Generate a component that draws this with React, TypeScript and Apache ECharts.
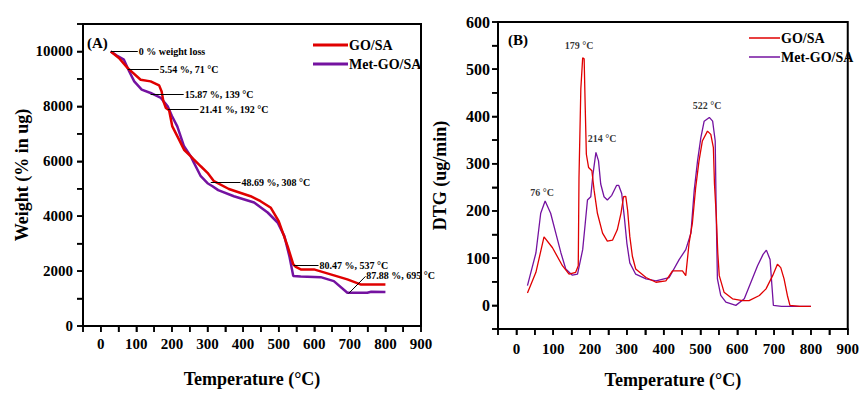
import React, { useEffect, useRef } from 'react';
import * as echarts from 'echarts';

const FONT = "'Liberation Serif', 'Times New Roman', serif";
const RED = '#e00000';
const PURPLE = '#7412a0';

// Panel A: TGA (weight vs temperature)
const goTgaT = [28, 51, 75, 112, 140, 164, 171, 176, 183, 192, 201, 220, 234, 253, 262, 281, 300, 318, 360, 421, 449, 478, 500, 525, 541, 548, 562, 599, 646, 693, 730, 760, 800];
const goTgaW = [10000, 9760, 9400, 8970, 8910, 8764, 8545, 8182, 7940, 7860, 7270, 6790, 6420, 6180, 6062, 5818, 5578, 5273, 4990, 4727, 4545, 4305, 3818, 2909, 2243, 2150, 2062, 2062, 1880, 1698, 1516, 1516, 1510];
const metTgaT = [28, 45, 65, 80, 94, 115, 140, 169, 188, 200, 215, 234, 253, 262, 281, 300, 314, 330, 374, 431, 469, 497, 516, 530, 541, 562, 618, 655, 693, 749, 760, 800];
const metTgaW = [10000, 9850, 9700, 9270, 8910, 8610, 8487, 8306, 8000, 7650, 7270, 6545, 6180, 5940, 5455, 5200, 5090, 4950, 4727, 4496, 4134, 3770, 3273, 2545, 1818, 1800, 1780, 1636, 1213, 1213, 1250, 1240];

// Panel A annotations (leader lines in data units)
const tgaNoteText = ['0 % weight loss', '5.54 %, 71 °C', '15.87 %, 139 °C', '21.41 %, 192 °C', '48.69 %, 308 °C', '80.47 %, 537 °C', '87.88 %, 695 °C'];
const tgaNoteFromT = [28, 76, 140, 188, 309, 542, 697];
const tgaNoteFromW = [10000, 9335, 8425, 7880, 5225, 2207, 1189];
const tgaNoteToT = [104, 163, 233, 275, 393, 612, 744];
const tgaNoteToW = [10000, 9335, 8425, 7880, 5225, 2207, 1807];

// Panel B: DTG
const goDtgT = [30, 53, 75, 98, 125, 143, 161, 168, 170, 175, 180, 184, 187, 190, 196, 205, 211, 220, 234, 247, 261, 274, 284, 291, 297, 302, 308, 315, 324, 352, 379, 406, 424, 451, 460, 469, 478, 487, 496, 505, 519, 528, 535, 538, 543, 547, 551, 564, 587, 614, 632, 660, 678, 696, 709, 718, 727, 736, 743, 770, 800];
const goDtgV = [26, 70, 145, 122, 84, 66, 70, 84, 271, 459, 524, 522, 417, 320, 292, 285, 244, 195, 153, 136, 138, 160, 195, 230, 231, 202, 146, 104, 77, 59, 49, 52, 73, 73, 63, 132, 174, 250, 306, 348, 369, 362, 334, 257, 188, 111, 63, 28, 14, 10, 10, 21, 35, 63, 87, 80, 56, 21, 0, -2, -2];
const metDtgT = [30, 53, 66, 78, 93, 107, 121, 134, 152, 166, 180, 187, 193, 202, 208, 216, 223, 229, 238, 247, 259, 272, 278, 286, 293, 300, 308, 324, 352, 379, 415, 442, 460, 474, 483, 492, 501, 510, 524, 533, 540, 543, 546, 555, 569, 596, 619, 637, 655, 670, 679, 689, 694, 698, 720, 800];
const metDtgV = [42, 111, 195, 221, 195, 153, 111, 77, 64, 66, 118, 174, 223, 230, 278, 324, 306, 257, 230, 223, 233, 254, 254, 237, 188, 132, 90, 66, 56, 52, 59, 97, 118, 153, 244, 306, 355, 390, 398, 390, 348, 181, 56, 21, 7, 0, 14, 49, 84, 108, 117, 97, 42, 0, -2, -2];

// Panel B peak labels
const dtgPeakText = ['76 °C', '179 °C', '214 °C', '522 °C'];
const dtgPeakT = [70, 170, 233, 518];
const dtgPeakV = [238, 550, 353, 424];

const seriesNames = ['GO/SA', 'Met-GO/SA'];

// Axis ranges
const xMin = -50, xMax = 900, xStep = 50;
const yRanges = [
  { min: 0, max: 11000, step: 1000, labelEvery: 2000 },
  { min: -50, max: 600, step: 50, labelEvery: 100 },
];

const zip = (a: number[], b: number[]) => a.map((v, i) => [v, b[i]]);
const steps = (a: number, b: number, s: number) => {
  const out: number[] = [];
  for (let v = a; v <= b + 1e-9; v += s) out.push(v);
  return out;
};

const axisText = { fontFamily: FONT, fontWeight: 'bold' as const, color: '#000' };
const mkLine = () => ({ show: true, onZero: false, lineStyle: { color: '#000', width: 2 } });
const mkTick = () => ({ show: true, length: 6, lineStyle: { color: '#000', width: 1.5 } });

function makeXAxis(gridIndex: number, nameGap: number, margin: number) {
  return {
    gridIndex,
    type: 'value' as const,
    min: xMin,
    max: xMax,
    interval: xStep,
    name: 'Temperature (°C)',
    nameLocation: 'middle' as const,
    nameGap,
    nameTextStyle: { ...axisText, fontSize: 18 },
    axisLine: mkLine(),
    axisTick: mkTick(),
    axisLabel: {
      ...axisText,
      fontSize: 15,
      margin,
      formatter: (v: number) => (v % 100 === 0 ? String(v) : ''),
    },
    splitLine: { show: false },
  };
}

// Tick marks drawn through the axes' own scales (custom series + api.coord)
function tickSeries(p: number, dir: 'x' | 'y') {
  const yr = yRanges[p];
  const data = dir === 'x'
    ? steps(xMin, xMax, xStep).map((v) => [v, yr.min])
    : steps(yr.min, yr.max, yr.step).map((v) => [xMin, v]);
  return {
    name: `ticks-${dir}-${p}`,
    type: 'custom',
    xAxisIndex: p,
    yAxisIndex: p,
    silent: true,
    clip: false,
    z: 10,
    data,
    encode: { x: 0, y: 1 },
    renderItem: (_params: any, api: any) => {
      const pt = api.coord([api.value(0), api.value(1)]);
      const shape = dir === 'x'
        ? { x1: pt[0], y1: pt[1], x2: pt[0], y2: pt[1] + 6 }
        : { x1: pt[0] - 6, y1: pt[1], x2: pt[0], y2: pt[1] };
      return { type: 'line', shape, style: { stroke: '#000', lineWidth: 1.5 } };
    },
  };
}

export default function App() {
  const ref = useRef<HTMLDivElement>(null);
  useEffect(() => {
    const chart = echarts.init(ref.current!, null, { renderer: 'svg' });
    const option = {
      animation: false,
      backgroundColor: '#fff',
      grid: [
        { left: 83, top: 24, width: 338, height: 302, show: true, borderColor: '#000', borderWidth: 2, backgroundColor: 'transparent' },
        { left: 498, top: 22, width: 351, height: 312, show: true, borderColor: '#000', borderWidth: 2, backgroundColor: 'transparent' },
      ],
      xAxis: [makeXAxis(0, 44, 10), makeXAxis(1, 42, 12)],
      yAxis: [
        {
          gridIndex: 0,
          type: 'value',
          min: yRanges[0].min,
          max: yRanges[0].max,
          interval: yRanges[0].step,
          name: 'Weight (% in ug)',
          nameLocation: 'middle',
          nameGap: 52,
          nameTextStyle: { ...axisText, fontSize: 18 },
          axisLine: mkLine(),
          axisTick: mkTick(),
          axisLabel: { ...axisText, fontSize: 15, margin: 10, formatter: (v: number) => (v % yRanges[0].labelEvery === 0 ? String(v) : '') },
          splitLine: { show: false },
        },
        {
          gridIndex: 1,
          type: 'value',
          min: yRanges[1].min,
          max: yRanges[1].max,
          interval: yRanges[1].step,
          name: 'DTG (ug/min)',
          nameLocation: 'middle',
          nameGap: 49,
          nameTextStyle: { ...axisText, fontSize: 18 },
          axisLine: mkLine(),
          axisTick: mkTick(),
          axisLabel: { ...axisText, fontSize: 16, margin: 8, formatter: (v: number) => (v % yRanges[1].labelEvery === 0 ? String(v) : '') },
          splitLine: { show: false },
        },
      ],
      legend: [
        {
          left: 308,
          top: 32,
          orient: 'vertical',
          icon: 'rect',
          itemWidth: 35,
          itemHeight: 3,
          itemGap: 3,
          data: seriesNames,
          textStyle: { ...axisText, fontSize: 14, lineHeight: 16, padding: [0, 0, 0, -4] },
          selectedMode: false,
        },
        {
          left: 744,
          top: 25,
          orient: 'vertical',
          icon: 'rect',
          itemWidth: 31,
          itemHeight: 1.5,
          itemGap: 3,
          data: seriesNames,
          textStyle: { ...axisText, fontSize: 14, lineHeight: 16, padding: [0, 0, 0, -4] },
          selectedMode: false,
        },
      ],
      graphic: [
        { type: 'text', left: 87, top: 35, style: { text: '(A)', font: `bold 15px ${FONT}`, fill: '#000' } },
        { type: 'text', left: 508, top: 32, style: { text: '(B)', font: `bold 15px ${FONT}`, fill: '#000' } },
      ],
      series: [
        {
          name: seriesNames[0],
          type: 'line',
          xAxisIndex: 0,
          yAxisIndex: 0,
          data: zip(goTgaT, goTgaW),
          showSymbol: false,
          color: RED,
          lineStyle: { color: RED, width: 2.5 },
          z: 3,
          markLine: {
            silent: true,
            symbol: ['none', 'none'],
            animation: false,
            lineStyle: { color: '#000', width: 1, type: 'solid' },
            label: {
              show: true,
              position: 'end',
              distance: 1,
              fontFamily: FONT,
              fontWeight: 'bold',
              fontSize: 10,
              color: '#000',
            },
            data: tgaNoteText.map((t, i) => [
              { coord: [tgaNoteFromT[i], tgaNoteFromW[i]], label: { formatter: t, align: 'left', verticalAlign: 'middle' } },
              { coord: [tgaNoteToT[i], tgaNoteToW[i]] },
            ]),
          },
        },
        {
          name: seriesNames[1],
          type: 'line',
          xAxisIndex: 0,
          yAxisIndex: 0,
          data: zip(metTgaT, metTgaW),
          showSymbol: false,
          color: PURPLE,
          lineStyle: { color: PURPLE, width: 2.5 },
          z: 2,
        },
        {
          name: seriesNames[0],
          type: 'line',
          xAxisIndex: 1,
          yAxisIndex: 1,
          data: zip(goDtgT, goDtgV),
          showSymbol: false,
          color: RED,
          lineStyle: { color: RED, width: 1.3 },
          z: 3,
        },
        {
          name: seriesNames[1],
          type: 'line',
          xAxisIndex: 1,
          yAxisIndex: 1,
          data: zip(metDtgT, metDtgV),
          showSymbol: false,
          color: PURPLE,
          lineStyle: { color: PURPLE, width: 1.3 },
          z: 2,
        },
        {
          name: 'peaks',
          type: 'scatter',
          xAxisIndex: 1,
          yAxisIndex: 1,
          silent: true,
          symbolSize: 0,
          itemStyle: { color: 'transparent' },
          data: dtgPeakT.map((t, i) => [t, dtgPeakV[i]]),
          label: {
            show: true,
            position: 'inside',
            formatter: (p: any) => dtgPeakText[p.dataIndex],
            fontFamily: FONT,
            fontWeight: 'bold',
            fontSize: 10,
            color: '#000',
          },
        },
        tickSeries(0, 'x'),
        tickSeries(0, 'y'),
        tickSeries(1, 'x'),
        tickSeries(1, 'y'),
      ],
    };
    chart.setOption(option as any);
    return () => chart.dispose();
  }, []);
  return (
    <div
      ref={ref}
      style={{ position: 'fixed', left: 0, top: 0, width: 862, height: 394, background: '#fff' }}
    />
  );
}
